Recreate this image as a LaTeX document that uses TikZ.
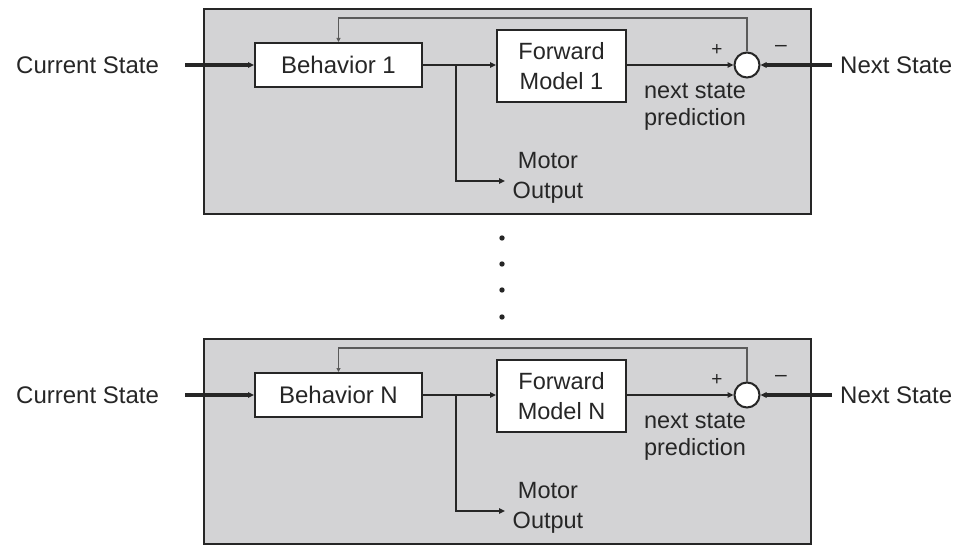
\documentclass[tikz,border=0pt]{standalone}
\usepackage{fontspec}
\setmainfont{Liberation Sans}
\usetikzlibrary{arrows.meta}
\definecolor{panel}{RGB}{211,211,213}
\definecolor{ink}{RGB}{38,38,38}
\definecolor{fbline}{RGB}{90,90,90}
\begin{document}
\begin{tikzpicture}[x=1pt,y=-1pt,
  font=\fontsize{24}{28}\selectfont,
  tip/.tip={Triangle[length=6pt,width=5.5pt]},
  panelbox/.style={draw=ink,line width=2pt,fill=panel,inner sep=0,minimum width=607pt,minimum height=205pt},
  blockbox/.style={draw=ink,line width=2pt,fill=white,inner sep=0},
  txt/.style={inner sep=0,text=ink},
  thickline/.style={draw=ink,line width=4pt},
  midline/.style={draw=ink,line width=2.3pt},
  thinline/.style={draw=fbline,line width=1.5pt}]
\useasboundingbox (0,0) rectangle (958,545);
\foreach \dy/\k in {0/1,330/N}{
\begin{scope}[yshift=-\dy pt]
  \node[panelbox] (panel\k) at (507.5,111.5) {};
  \node[blockbox,minimum width=167pt,minimum height=44pt] (beh\k) at (338.5,65) {\textcolor{ink}{Behavior \k}};
  \node[blockbox,minimum width=129pt,minimum height=72pt,align=center,font=\fontsize{23.5}{30}\selectfont] (fwd\k) at (561.5,66) {\textcolor{ink}{Forward}\\\textcolor{ink}{Model \k}};
  \node[circle,draw=ink,line width=2pt,fill=white,minimum size=25pt,inner sep=0] (sum\k) at (747,65) {};
  \node[txt,anchor=west] (cs\k) at (16,65) {Current State};
  \node[txt,anchor=west] (ns\k) at (840,65) {Next State};
  \node[txt,align=center,font=\fontsize{23.5}{30}\selectfont] (mo\k) at (548,178) {Motor\\Output};
  \node[txt,align=center,font=\fontsize{23.5}{27}\selectfont] (nsp\k) at (695,107) {next state\\prediction};
  \node[txt,font=\fontsize{19}{19}\selectfont] (plus\k) at (717,50) {+};
  \node[txt,font=\fontsize{21}{21}\selectfont] (minus\k) at (781,48) {–};
  \coordinate (br\k) at (456,65);
  \coordinate (mi\k) at (505,181);
  \draw[thickline,-{tip}] ([xshift=26pt]cs\k.east) -- (beh\k.west);
  \draw[thickline,line width=3.5pt,-{tip}] ([xshift=-8pt]ns\k.west) -- (sum\k.east);
  \draw[midline,-{tip}] (beh\k.east) -- (fwd\k.west |- beh\k.east);
  \draw[midline,-{tip}] (br\k) |- (mi\k);
  \draw[midline,-{tip}] (fwd\k.east |- sum\k) -- (sum\k.west);
  \draw[thinline,-{Triangle[length=4pt,width=4pt]}] (sum\k.north) -- ++(0,-33.5) -| (beh\k.north);
\end{scope}
}
\foreach \yy [count=\i] in {238,264,290,317}{
  \fill[ink] (502,\yy) circle (2.7pt) coordinate (dot\i);
}
\end{tikzpicture}
\end{document}
